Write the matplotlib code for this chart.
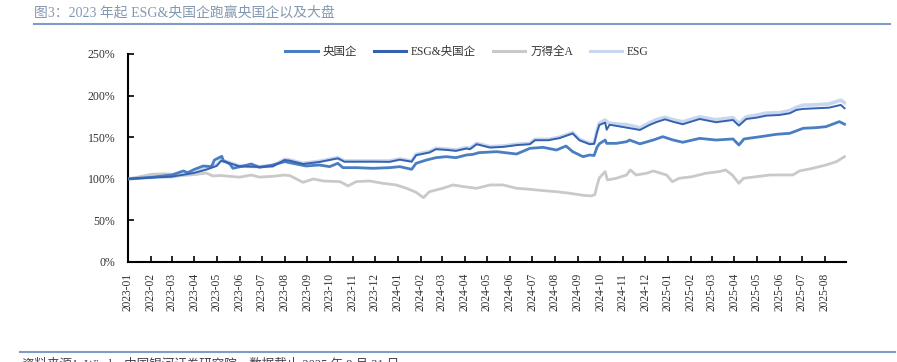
import matplotlib
matplotlib.use("Agg")
import matplotlib.pyplot as plt
import matplotlib.dates as mdates
import pandas as pd
from matplotlib.lines import Line2D

plt.rcParams['font.family'] = ['Liberation Serif', 'Noto Sans CJK SC', 'DejaVu Sans']

title = "图3：2023 年起 ESG&央国企跑赢央国企以及大盘"
source = "资料来源：Wind，中国银河证券研究院，数据截止 2025 年 8 月 31 日"
labels = ["央国企", "ESG&央国企", "万得全A", "ESG"]
colors = ["#4A7EC2", "#3462B0", "#C9C9C9", "#C8D7EF"]

# 万得全A
wind_dates = ["2023-01-03", "2023-02-02", "2023-02-20", "2023-03-17", "2023-04-01", "2023-04-17",
              "2023-04-26", "2023-05-05", "2023-06-01", "2023-06-17", "2023-06-28", "2023-07-16",
              "2023-08-01", "2023-08-08", "2023-08-26", "2023-09-09", "2023-09-22", "2023-10-15",
              "2023-10-26", "2023-11-06", "2023-11-24", "2023-12-12", "2023-12-30", "2024-01-13",
              "2024-01-26", "2024-02-05", "2024-02-13", "2024-03-02", "2024-03-16", "2024-03-30",
              "2024-04-17", "2024-05-05", "2024-05-23", "2024-06-10", "2024-06-28", "2024-07-16",
              "2024-08-03", "2024-08-21", "2024-09-08", "2024-09-19", "2024-09-24", "2024-09-27",
              "2024-09-30", "2024-10-08", "2024-10-11", "2024-10-23", "2024-11-06", "2024-11-11",
              "2024-11-19", "2024-12-03", "2024-12-12", "2024-12-30", "2025-01-07", "2025-01-16",
              "2025-02-03", "2025-02-21", "2025-03-11", "2025-03-20", "2025-03-29", "2025-04-07",
              "2025-04-13", "2025-05-01", "2025-05-19", "2025-06-06", "2025-06-19", "2025-06-28",
              "2025-07-16", "2025-08-03", "2025-08-17", "2025-08-28"]
wind_vals = [100, 105.4, 106, 104.2, 105, 107, 103.4, 104, 102, 104.5, 102, 103,
             104.5, 103.8, 95.8, 99.8, 97.4, 96.6, 91.4, 96.6, 97.4, 94.6, 92.6, 88.6,
             83.8, 77.3, 84.5, 88.6, 92.6, 90.6, 88.6, 92.6, 92.6, 88.6, 87.4, 85.8,
             84.5, 82.6, 80.2, 79.4, 81, 92, 101, 108.6, 98.6, 100.6, 104.6, 110.6,
             104.6, 106.6, 109.4, 104.6, 96.5, 100.6, 102.6, 106.6, 108.6, 110.6, 104.6, 94.6,
             100.6, 102.6, 104.6, 104.6, 104.6, 109.4, 112.6, 116.6, 120.6, 126.6]

# 央国企
soe_dates = ["2023-01-03", "2023-02-02", "2023-03-01", "2023-03-17", "2023-03-23", "2023-04-01",
             "2023-04-13", "2023-04-24", "2023-04-28", "2023-05-08", "2023-05-10", "2023-05-19",
             "2023-05-23", "2023-06-06", "2023-06-17", "2023-06-28", "2023-07-16", "2023-08-01",
             "2023-08-12", "2023-08-30", "2023-09-17", "2023-10-01", "2023-10-12", "2023-10-19",
             "2023-11-06", "2023-11-29", "2023-12-21", "2024-01-04", "2024-01-20", "2024-01-26",
             "2024-02-09", "2024-02-22", "2024-03-07", "2024-03-20", "2024-04-03", "2024-04-12",
             "2024-04-20", "2024-05-14", "2024-06-10", "2024-06-28", "2024-07-16", "2024-08-03",
             "2024-08-16", "2024-08-25", "2024-09-08", "2024-09-17", "2024-09-23", "2024-09-27",
             "2024-09-30", "2024-10-08", "2024-10-10", "2024-10-23", "2024-11-06", "2024-11-10",
             "2024-11-24", "2024-12-12", "2024-12-25", "2025-01-08", "2025-01-21", "2025-02-13",
             "2025-03-07", "2025-03-30", "2025-04-07", "2025-04-14", "2025-05-06", "2025-05-28",
             "2025-06-15", "2025-07-03", "2025-07-21", "2025-08-03", "2025-08-21", "2025-08-28"]
soe_vals = [100, 101.8, 104.6, 109.4, 107.4, 111.4, 115.4, 114.6, 122.6, 127, 121.8, 117.8,
            112.6, 115.4, 117.8, 113.8, 116.6, 120.6, 118.6, 115.4, 116.6, 114.6, 118.6, 113.4,
            113.4, 112.6, 113.4, 114.6, 111.4, 118.6, 122.6, 125.4, 126.6, 125.4, 128.6, 129.4,
            131.4, 132.6, 129.8, 136.6, 137.8, 134.6, 139.4, 132.6, 126.6, 128.6, 128, 138,
            142, 146.6, 142.6, 142.6, 144.6, 146.6, 142, 146.6, 150.6, 146.6, 143.9, 148.6,
            146.6, 147.9, 140.6, 147.9, 150.6, 153.5, 154.7, 160.7, 161.5, 162.7, 168.7, 165.6]

# ESG
esg_dates = ["2023-01-03", "2023-02-02", "2023-03-01", "2023-03-31", "2023-04-17", "2023-05-01",
             "2023-05-07", "2023-05-14", "2023-06-01", "2023-06-28", "2023-07-16", "2023-08-01",
             "2023-08-08", "2023-08-26", "2023-09-17", "2023-10-12", "2023-10-21", "2023-11-29",
             "2023-12-21", "2024-01-04", "2024-01-20", "2024-01-26", "2024-02-13", "2024-02-22",
             "2024-03-07", "2024-03-20", "2024-04-03", "2024-04-08", "2024-04-17", "2024-05-05",
             "2024-05-23", "2024-06-10", "2024-06-28", "2024-07-05", "2024-07-23", "2024-08-07",
             "2024-08-25", "2024-09-03", "2024-09-17", "2024-09-23", "2024-09-27", "2024-09-30",
             "2024-10-08", "2024-10-10", "2024-10-14", "2024-11-06", "2024-11-19", "2024-11-24",
             "2024-12-07", "2024-12-16", "2024-12-28", "2025-01-08", "2025-01-21", "2025-02-13",
             "2025-03-07", "2025-03-30", "2025-04-07", "2025-04-17", "2025-05-01", "2025-05-14",
             "2025-06-01", "2025-06-15", "2025-06-24", "2025-07-03", "2025-07-21", "2025-08-07",
             "2025-08-23", "2025-08-28"]
esg_vals = [100, 101.8, 102.6, 106.6, 112.6, 116.6, 122.6, 120.6, 115.4, 114.6, 115.4, 123.4,
            122.6, 118.6, 121, 125.4, 121.4, 121.4, 121.4, 123.8, 121.4, 129.4, 132.6, 136.6,
            135.8, 134.6, 137.4, 136.6, 142.6, 138.6, 139.4, 141.5, 142.6, 147.4, 147.4, 149.9,
            155.5, 147.4, 142.6, 143, 158, 166.7, 170.7, 168.7, 166.7, 165, 162.5, 161,
            167.5, 171, 174, 171, 168.5, 174.5, 171, 173.5, 166.5, 174.5, 176.5, 179,
            179.5, 182, 186, 188.5, 189, 190, 194.5, 191.5]

# ESG&央国企
esgsoe_dates = esg_dates
esgsoe_vals = [100, 101.5, 102.5, 107, 111, 115.5, 121.5, 120, 115, 114.2, 115, 122.6,
               121.8, 117.8, 120.2, 124.6, 120.6, 120.6, 120.4, 123, 120.6, 128.4, 131.6, 135.6,
               134.8, 133.6, 136.4, 135.6, 141.6, 137.6, 138.4, 140.5, 141.6, 146.4, 146.4, 148.9,
               154.5, 146.4, 141.6, 142, 156, 164.7, 167.5, 159, 165, 161.5, 159.5, 158.7,
               164.7, 168, 171.5, 168.5, 165.6, 171.9, 168, 170.7, 163.9, 171.9, 173.5, 175.9,
               176.7, 178.8, 182.8, 184, 184.8, 185.5, 188.8, 184.8]

W, H = 897, 362
fig = plt.figure(figsize=(W / 100, H / 100), dpi=100)
ax = fig.add_axes([128 / W, 1 - 262 / H, (846 - 128) / W, (262 - 54) / H])

ax.plot(pd.to_datetime(esg_dates), esg_vals, color=colors[3], lw=2.6, zorder=2, solid_joinstyle='round')
ax.plot(pd.to_datetime(wind_dates), wind_vals, color=colors[2], lw=2.0, zorder=3)
ax.plot(pd.to_datetime(soe_dates), soe_vals, color=colors[0], lw=2.0, zorder=4)
ax.plot(pd.to_datetime(esgsoe_dates), esgsoe_vals, color=colors[1], lw=1.4, zorder=5)

ax.set_xlim(pd.Timestamp("2023-01-01"), pd.Timestamp("2025-08-30"))
ax.set_ylim(0, 250)
ax.set_yticks([0, 50, 100, 150, 200, 250])
ax.yaxis.set_major_formatter(matplotlib.ticker.FuncFormatter(lambda v, p: f"{v:.0f}%"))
ax.xaxis.set_major_locator(mdates.MonthLocator())
ax.xaxis.set_major_formatter(mdates.DateFormatter("%Y-%m"))

for s in ["top", "right"]:
    ax.spines[s].set_visible(False)
for s in ["left", "bottom"]:
    ax.spines[s].set_linewidth(1.5)
    ax.spines[s].set_color("black")
ax.tick_params(axis="x", direction="in", length=4, width=1.2, labelsize=8.3, pad=8,
               labelrotation=90, colors="black")
ax.tick_params(axis="y", direction="in", length=4, width=1.2, labelsize=8.5, pad=9)
for lab in ax.get_xticklabels():
    lab.set_color("#333333")
for lab in ax.get_yticklabels():
    lab.set_color("#333333")

handles = [Line2D([], [], color=colors[0], lw=2.2),
           Line2D([], [], color=colors[1], lw=2.2),
           Line2D([], [], color=colors[2], lw=2.2),
           Line2D([], [], color=colors[3], lw=2.2)]
leg = fig.legend(handles, labels, loc="center", bbox_to_anchor=(467 / W, 1 - 52 / H), ncol=4,
                 frameon=False, fontsize=8.3, handlelength=2.8, handletextpad=0.4,
                 columnspacing=1.5)
for t in leg.get_texts():
    t.set_color("#333333")

fig.text(34 / W, 1 - 13 / H, title, fontsize=10, color="#8497B0", va="center", ha="left")
fig.add_artist(Line2D([34 / W, 890 / W], [1 - 24 / H, 1 - 24 / H], color="#7F9ACB", lw=1.5))
fig.add_artist(Line2D([20 / W, 895 / W], [1 - 352 / H, 1 - 352 / H], color="#7F9ACB", lw=1.5))
fig.text(22 / W, 1 - 358 / H, source, fontsize=9, color="#404040", va="top", ha="left")

fig.savefig("out.png", dpi=100)
